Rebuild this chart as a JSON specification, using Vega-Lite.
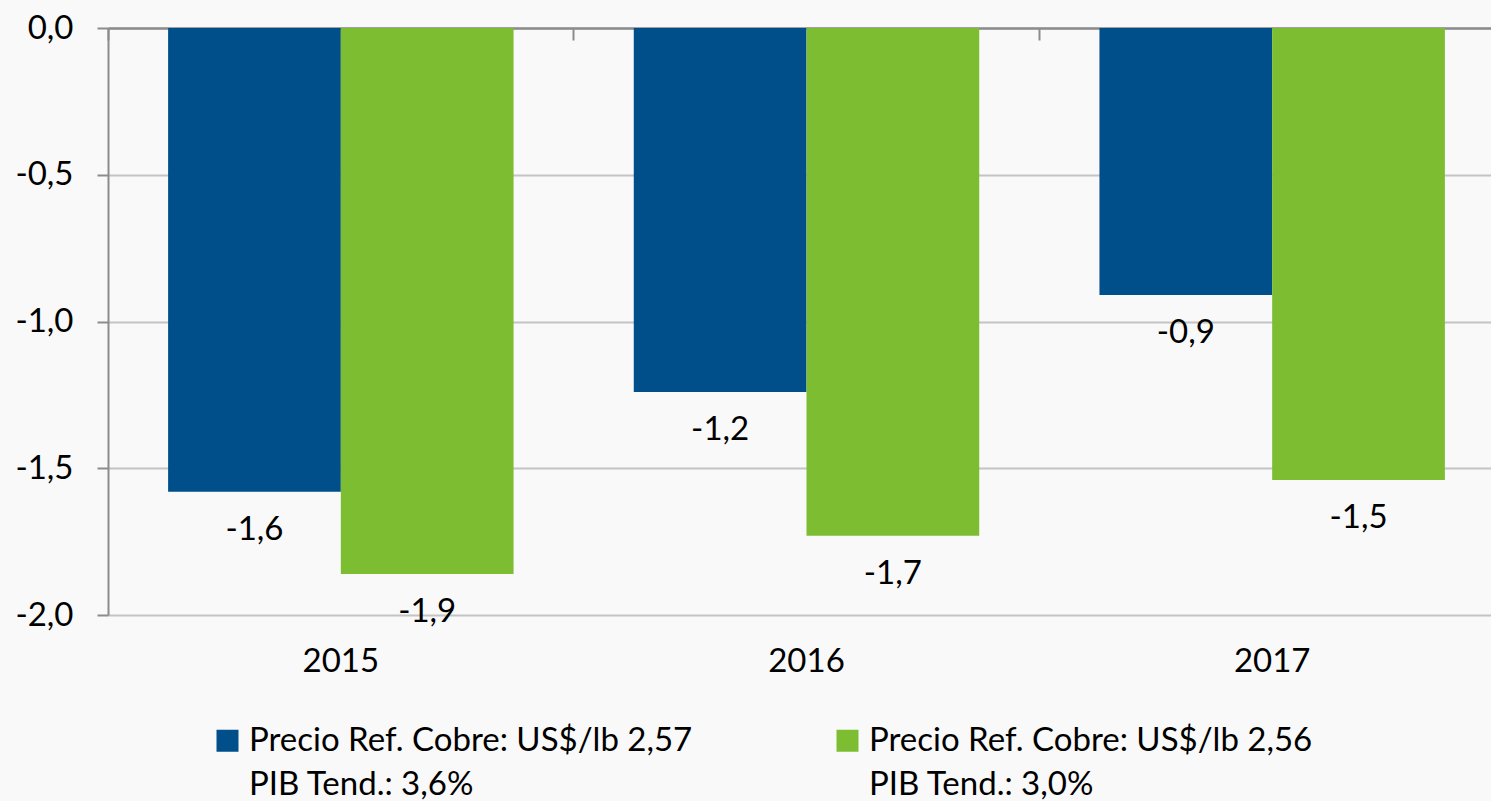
{
  "$schema": "https://vega.github.io/schema/vega-lite/v6.json",
  "width": 1383,
  "height": 587,
  "autosize": {"type": "none"},
  "padding": {"left": 108, "top": 28, "right": 0, "bottom": 186},
  "background": "#f9f9f9",
  "config": {
    "font": "Lato",
    "view": {"stroke": null},
    "locale": {"number": {"decimal": ",", "thousands": ".", "grouping": [3], "currency": ["$", ""], "minus": "-"}},
    "axis": {"labelFont": "Lato", "labelColor": "#000000", "labelFontSize": 33, "title": null}
  },
  "data": {
    "values": [
      {"year": "2015", "serie": "Precio Ref. Cobre: US$/lb 2,57\nPIB Tend.: 3,6%", "value": -1.58},
      {"year": "2015", "serie": "Precio Ref. Cobre: US$/lb 2,56\nPIB Tend.: 3,0%", "value": -1.86},
      {"year": "2016", "serie": "Precio Ref. Cobre: US$/lb 2,57\nPIB Tend.: 3,6%", "value": -1.24},
      {"year": "2016", "serie": "Precio Ref. Cobre: US$/lb 2,56\nPIB Tend.: 3,0%", "value": -1.73},
      {"year": "2017", "serie": "Precio Ref. Cobre: US$/lb 2,57\nPIB Tend.: 3,6%", "value": -0.91},
      {"year": "2017", "serie": "Precio Ref. Cobre: US$/lb 2,56\nPIB Tend.: 3,0%", "value": -1.54}
    ]
  },
  "encoding": {
    "x": {"field": "year", "type": "nominal", "scale": {"range": [0, 1397], "paddingInner": 0, "paddingOuter": 0}},
    "xOffset": {"field": "serie", "type": "nominal", "sort": ["Precio Ref. Cobre: US$/lb 2,57\nPIB Tend.: 3,6%", "Precio Ref. Cobre: US$/lb 2,56\nPIB Tend.: 3,0%"], "scale": {"paddingInner": 0, "paddingOuter": 0.348}},
    "y": {"field": "value", "type": "quantitative", "scale": {"domain": [-2, 0], "nice": false, "zero": false}}
  },
  "layer": [
    {
      "mark": {"type": "bar"},
      "encoding": {
        "x": {"field": "year", "type": "nominal", "axis": {"orient": "top", "labels": false, "domain": true, "domainColor": "#8c8c8c", "domainWidth": 2.5, "ticks": true, "tickColor": "#8c8c8c", "tickWidth": 2, "tickSize": -12, "bandPosition": 0, "grid": false}},
        "y": {"field": "value", "type": "quantitative", "axis": {"values": [-2, -1.5, -1, -0.5, 0], "format": ".1f", "domain": true, "domainColor": "#8c8c8c", "domainWidth": 2, "ticks": true, "tickColor": "#8c8c8c", "tickWidth": 2, "tickSize": 11, "grid": true, "gridColor": "#c4c4c4", "gridWidth": 2, "labelPadding": 24, "labelBaseline": "middle"}},
        "color": {
          "field": "serie", "type": "nominal",
          "scale": {"domain": ["Precio Ref. Cobre: US$/lb 2,57\nPIB Tend.: 3,6%", "Precio Ref. Cobre: US$/lb 2,56\nPIB Tend.: 3,0%"], "range": ["#004f8a", "#7cbd32"]},
          "legend": {
            "title": null, "orient": "none", "legendX": 103, "legendY": 696, "direction": "horizontal", "columns": 2, "columnPadding": 138, "padding": 0,
            "symbolType": "square", "symbolSize": 484, "symbolStrokeWidth": 0, "symbolOffset": 0,
            "labelFont": "Lato", "labelFontSize": 33, "labelColor": "#000000", "labelLimit": 0, "labelOffset": 5,
            "labelExpr": "split(datum.label, '\\n')", "labelBaseline": "middle",
            "encode": {"labels": {"update": {"dy": {"value": 0}, "lineHeight": {"value": 44}}}}
          }
        }
      }
    },
    {
      "mark": {"type": "text", "baseline": "alphabetic", "dy": 48, "fontSize": 33, "font": "Lato", "color": "#000000"},
      "encoding": {
        "x": {"field": "year", "type": "nominal", "axis": {"orient": "bottom", "labels": true, "domain": false, "ticks": false, "grid": false, "labelPadding": 30, "labelAngle": 0}},
        "text": {"field": "value", "type": "quantitative", "format": ".1f"}
      }
    }
  ],
  "resolve": {"axis": {"x": "independent"}}
}
